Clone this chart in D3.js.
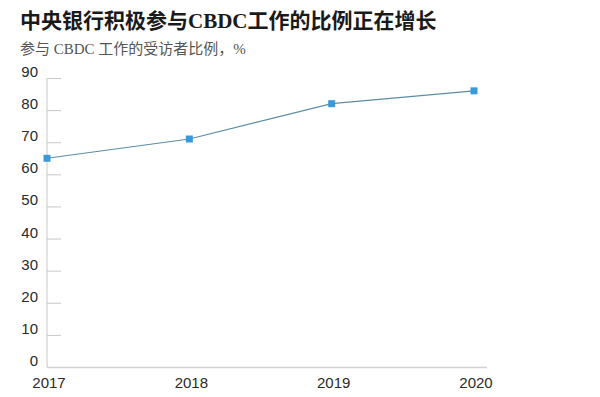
<!DOCTYPE html>
<html>
<head>
<meta charset="utf-8">
<script src="https://cdn.jsdelivr.net/npm/d3@7"></script>
<style>
  body { margin: 0; background: #fff; }
</style>
</head>
<body>
<div id="root"></div>
<script>
var years = ["2017", "2018", "2019", "2020"];
var values = [65, 71, 82, 86];
var yTicks = [0, 10, 20, 30, 40, 50, 60, 70, 80, 90];

var w = 600, h = 397;
var margin = { top: 78, left: 47, bottom: 30 };

var svg = d3.select("#root").append("svg").attr("width", w).attr("height", h);
svg.append("rect").attr("width", w).attr("height", h).attr("fill", "white");

// title
svg.append("text").attr("x", 20).attr("y", 28)
  .style("font-family", "'Liberation Serif', 'Noto Sans CJK SC', serif")
  .style("font-size", "21px").style("font-weight", "bold").attr("fill", "#1a1a1a")
  .text("中央银行积极参与CBDC工作的比例正在增长");
// subtitle
svg.append("text").attr("x", 20).attr("y", 54)
  .style("font-family", "'Liberation Serif', 'Noto Sans CJK SC', serif")
  .style("font-size", "15px").attr("fill", "#555")
  .text("参与 CBDC 工作的受访者比例，%");

var x = d3.scalePoint().domain(years).range([47, 474]);
var y = d3.scaleLinear().domain([0, 90]).range([367, 78]);

// y axis
var yAxis = d3.axisLeft(y).tickValues(yTicks).tickSize(-14).tickPadding(22);
var gy = svg.append("g").attr("transform", "translate(" + margin.left + ",0)").call(yAxis);
gy.select(".domain").attr("stroke", "#c8c8c8").attr("d", "M0,367V78");
gy.selectAll(".tick line").attr("stroke", "#c8c8c8");
gy.selectAll(".tick text")
  .style("font-family", "'Liberation Sans', Arial, sans-serif").style("font-size", "15px")
  .attr("fill", "#2a2a2a").attr("x", -9).attr("dy", "-0.1em");

// x baseline
svg.append("line").attr("x1", 47).attr("x2", 487).attr("y1", 367.5).attr("y2", 367.5)
  .attr("stroke", "#d0d0d0").attr("stroke-width", 1.5);

// x labels
svg.selectAll(".xlab").data(years).enter().append("text").attr("class", "xlab")
  .attr("x", function(d) { return x(d) + 2; }).attr("y", 388)
  .attr("text-anchor", "middle")
  .style("font-family", "'Liberation Sans', Arial, sans-serif").style("font-size", "15px")
  .attr("fill", "#2a2a2a").text(function(d) { return d; });

// line
var line = d3.line().x(function(d, i) { return x(years[i]); }).y(function(d) { return y(d); });
svg.append("path").datum(values).attr("d", line)
  .attr("fill", "none").attr("stroke", "#5b8ea6").attr("stroke-width", 1.2);

// markers
svg.selectAll(".pt").data(values).enter().append("rect").attr("class", "pt")
  .attr("x", function(d, i) { return x(years[i]) - 3.5; })
  .attr("y", function(d) { return y(d) - 3.5; })
  .attr("width", 7).attr("height", 7).attr("fill", "#3a9ad9");
</script>
</body>
</html>
